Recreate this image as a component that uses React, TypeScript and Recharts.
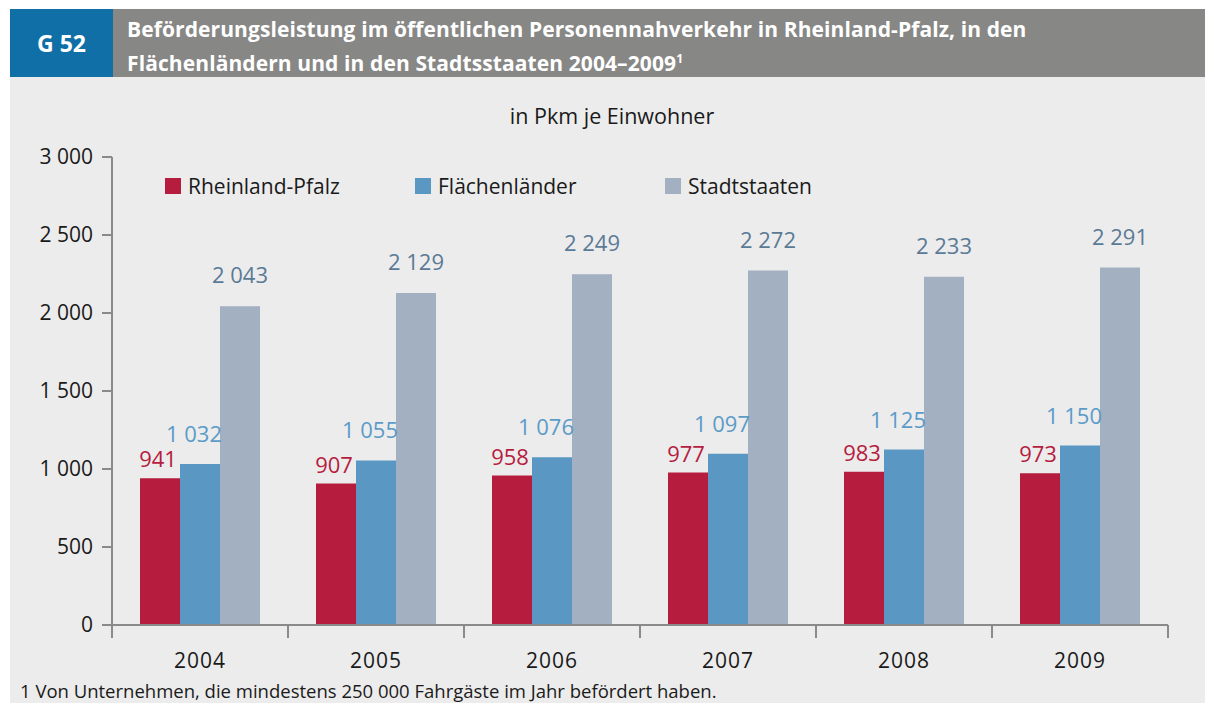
import { BarChart, Bar, XAxis, YAxis, Legend, LabelList } from "recharts";

// Beförderungsleistung ÖPNV, Pkm je Einwohner
const years = ["2004", "2005", "2006", "2007", "2008", "2009"];
const rheinlandPfalz = [941, 907, 958, 977, 983, 973];
const flaechenlaender = [1032, 1055, 1076, 1097, 1125, 1150];
const stadtstaaten = [2043, 2129, 2249, 2272, 2233, 2291];
const yTicks = [0, 500, 1000, 1500, 2000, 2500, 3000];

const seriesInfo = [
  { key: "rp", name: "Rheinland-Pfalz", color: "#b51c3e", label: "#b51c3e", offset: 11, dx: -2 },
  { key: "fl", name: "Flächenländer", color: "#5a97c3", label: "#5b9bc8", offset: 22, dx: -6 },
  { key: "st", name: "Stadtstaaten", color: "#a3b0c1", label: "#5a7a96", offset: 23, dx: 0 },
];

const data = years.map((y, i) => ({
  year: y,
  rp: rheinlandPfalz[i],
  fl: flaechenlaender[i],
  st: stadtstaaten[i],
}));

const FONT = "'Open Sans', 'Noto Sans', sans-serif";

const fmt = (v: number) => String(v).replace(/\B(?=(\d{3})+(?!\d))/g, " ");

function YearTick(props: any) {
  const { x, y, payload, index } = props;
  const half = payload.offset ?? 88;
  return (
    <g>
      <line x1={x - half} y1={y - 8} x2={x - half} y2={y + 5} stroke="#8a8a8a" strokeWidth={2} />
      {index === years.length - 1 && (
        <line x1={x + half} y1={y - 8} x2={x + half} y2={y + 5} stroke="#8a8a8a" strokeWidth={2} />
      )}
      <text x={x} y={y + 35} textAnchor="middle" fontSize={21} letterSpacing={1} fill="#1a1a1a" fontFamily={FONT}>
        {payload.value}
      </text>
    </g>
  );
}

function LegendBox() {
  return (
    <div style={{ display: "flex", fontFamily: FONT, fontSize: 21, color: "#1a1a1a" }}>
      {seriesInfo.map((s) => (
        <div key={s.key} style={{ display: "flex", alignItems: "center", width: 250 }}>
          <span style={{ width: 16, height: 16, background: s.color, marginRight: 7 }} />
          {s.name}
        </div>
      ))}
    </div>
  );
}

export default function App() {
  return (
    <div style={{ position: "absolute", left: 0, top: 0, width: 1214, height: 709, background: "#fff", fontFamily: FONT }}>
      <div style={{ position: "absolute", left: 10, top: 9, width: 103, height: 68, background: "#0f6fa6", color: "#fff", fontWeight: 700, fontSize: 23, display: "flex", alignItems: "center", justifyContent: "center" }}>
        G 52
      </div>
      <div style={{ position: "absolute", left: 113, top: 9, width: 1092, height: 68, background: "#878785", color: "#fff", fontWeight: 700, fontSize: 21, lineHeight: "30px", padding: "5px 0 0 14px", boxSizing: "border-box", letterSpacing: 0.1 }}>
        Beförderungsleistung im öffentlichen Personennahverkehr in Rheinland-Pfalz, in den
        <br />
        Flächenländern und in den Stadtsstaaten 2004–2009<sup style={{ fontSize: 12 }}>1</sup>
      </div>
      <div style={{ position: "absolute", left: 10, top: 77, width: 1195, height: 626, background: "#ececec" }} />
      <div style={{ position: "absolute", left: 0, top: 101, width: 1224, textAlign: "center", fontSize: 21.5, color: "#1a1a1a" }}>
        in Pkm je Einwohner
      </div>
      <div style={{ position: "absolute", left: 0, top: 0 }}>
        <BarChart
          width={1214}
          height={709}
          data={data}
          margin={{ top: 157, right: 46, bottom: 34, left: 12 }}
          barCategoryGap={28}
          barGap={0}
        >
          <YAxis
            domain={[0, 3000]}
            ticks={yTicks}
            interval={0}
            width={100}
            tickFormatter={fmt}
            tickSize={10}
            tickLine={{ stroke: "#8a8a8a", strokeWidth: 2 }}
            axisLine={{ stroke: "#8a8a8a", strokeWidth: 2 }}
            tick={{ fontSize: 21, fill: "#1a1a1a", fontFamily: FONT, dx: -7 }}
          />
          <XAxis
            dataKey="year"
            height={50}
            tickLine={false}
            axisLine={{ stroke: "#8a8a8a", strokeWidth: 2 }}
            tick={<YearTick />}
            interval={0}
          />
          <Legend
            verticalAlign="middle"
            content={<LegendBox />}
            wrapperStyle={{ position: "absolute", top: 172, left: 165, width: 800 }}
          />
          {seriesInfo.map((s) => (
            <Bar key={s.key} dataKey={s.key} name={s.name} fill={s.color} isAnimationActive={false}>
              <LabelList
                dataKey={s.key}
                position="top"
                offset={s.offset}
                formatter={(v: any) => fmt(Number(v))}
                fill={s.label}
                fontSize={22}
                fontFamily={FONT}
                dx={s.dx}
              />
            </Bar>
          ))}
        </BarChart>
      </div>
      <div style={{ position: "absolute", left: 20, top: 678, fontSize: 18.5, color: "#1a1a1a" }}>
        1 Von Unternehmen, die mindestens 250 000 Fahrgäste im Jahr befördert haben.
      </div>
    </div>
  );
}
